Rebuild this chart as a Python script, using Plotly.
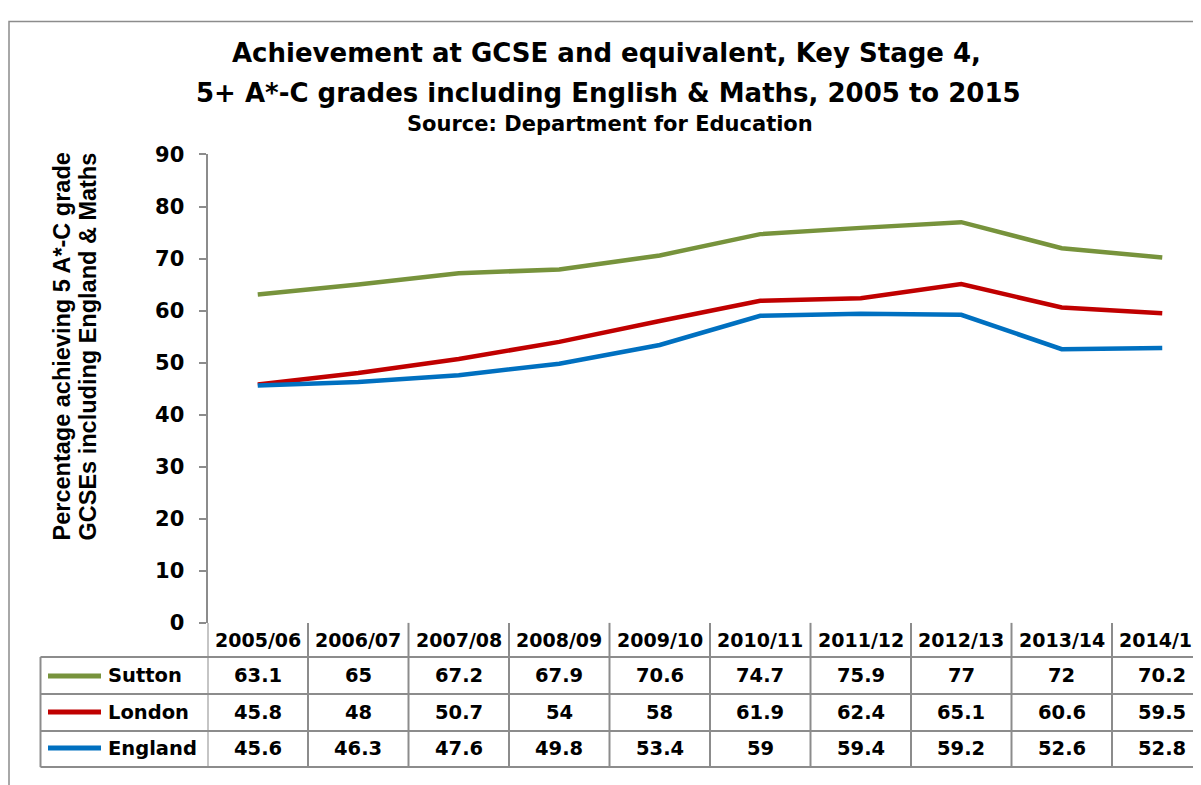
import plotly.graph_objects as go

# figure size; in the captured window the figure starts at (8, 20) and is
# drawn at ~0.968 vertical scale, so window pixels are mapped through that
FW, FH = 1201, 785
OX, OY, SY = 8, 20, 0.968

YEARS = ["2005/06", "2006/07", "2007/08", "2008/09", "2009/10",
         "2010/11", "2011/12", "2012/13", "2013/14", "2014/15"]
SUTTON = [63.1, 65, 67.2, 67.9, 70.6, 74.7, 75.9, 77, 72, 70.2]
LONDON = [45.8, 48, 50.7, 54, 58, 61.9, 62.4, 65.1, 60.6, 59.5]
ENGLAND = [45.6, 46.3, 47.6, 49.8, 53.4, 59, 59.4, 59.2, 52.6, 52.8]
Y_TICKS = [0, 10, 20, 30, 40, 50, 60, 70, 80, 90]

SERIES = [("Sutton", SUTTON, "#77933C"),
          ("London", LONDON, "#C00000"),
          ("England", ENGLAND, "#0070C0")]

WIDE = "DejaVu Sans, Verdana, sans-serif"
ARIAL = "Liberation Sans, Arial, sans-serif"
GRID = "#8C8C8C"


def px(x):
    # window pixel -> paper x
    return (x - OX) / FW


def py(y):
    # window pixel -> paper y
    return 1 - (y - OY) / SY / FH


def bold(size, family=WIDE):
    return dict(size=size, color="black", family=family, weight="bold")


# plot area in window pixels
LEFT, TOP, BOTTOM = 207.5, 154.3, 622
COL_W = 100.5
TABLE_BOTTOM = 766
n = len(YEARS)
x_hi = -0.5 + (OX + FW - LEFT) / COL_W

fig = go.Figure()
for name, vals, color in SERIES:
    fig.add_trace(go.Scatter(x=list(range(n)), y=vals, mode="lines", name=name,
                             line=dict(color=color, width=4.5), hoverinfo="x+y"))

shapes = []
annotations = []

# outer chart frame (right and bottom run off the picture)
shapes.append(dict(type="rect", xref="paper", yref="paper",
                   x0=px(9), x1=px(1260), y0=-0.2, y1=py(21.5),
                   line=dict(color=GRID, width=1.5)))

# data table grid
header_y, row_ys = 639, [675, 711, 747]
for yl in [656, 693, 730, TABLE_BOTTOM]:
    shapes.append(dict(type="line", xref="paper", yref="paper",
                       x0=px(40.5), x1=1.05, y0=py(yl), y1=py(yl),
                       line=dict(color=GRID, width=2)))
shapes.append(dict(type="line", xref="paper", yref="paper",
                   x0=px(40.5), x1=px(40.5), y0=py(656), y1=py(TABLE_BOTTOM),
                   line=dict(color=GRID, width=2)))
for i in range(n + 1):
    shapes.append(dict(type="line", xref="x", yref="paper",
                       x0=i - 0.5, x1=i - 0.5, y0=py(BOTTOM), y1=py(TABLE_BOTTOM),
                       line=dict(color=GRID, width=2)))

for i, yr in enumerate(YEARS):
    annotations.append(dict(x=i, y=py(header_y), xref="x", yref="paper", text=yr,
                            yanchor="middle", showarrow=False, font=bold(19)))

for (name, vals, color), ry in zip(SERIES, row_ys):
    shapes.append(dict(type="line", xref="paper", yref="paper",
                       x0=px(48), x1=px(101), y0=py(ry), y1=py(ry),
                       line=dict(color=color, width=5)))
    annotations.append(dict(x=px(106), y=py(ry), xref="paper", yref="paper",
                            text=name, xanchor="left", yanchor="middle",
                            showarrow=False, font=bold(19.5)))
    for i, v in enumerate(vals):
        annotations.append(dict(x=i, y=py(ry), xref="x", yref="paper",
                                text=f"{v:g}", yanchor="middle", showarrow=False,
                                font=bold(19.5)))

# titles
annotations += [
    dict(x=px(606), y=py(53), xref="paper", yref="paper", showarrow=False,
         xanchor="center", yanchor="middle",
         text="Achievement at GCSE and equivalent, Key Stage 4,", font=bold(26)),
    dict(x=px(608), y=py(93), xref="paper", yref="paper", showarrow=False,
         xanchor="center", yanchor="middle",
         text="5+ A*-C grades including English & Maths, 2005 to 2015", font=bold(26)),
    dict(x=px(610), y=py(124), xref="paper", yref="paper", showarrow=False,
         xanchor="center", yanchor="middle",
         text="Source: Department for Education", font=bold(21)),
    dict(x=px(62), y=py(346), xref="paper", yref="paper", showarrow=False,
         xanchor="center", yanchor="middle", textangle=-90,
         text="Percentage achieving 5 A*-C grade", font=bold(23.5, ARIAL)),
    dict(x=px(88), y=py(346), xref="paper", yref="paper", showarrow=False,
         xanchor="center", yanchor="middle", textangle=-90,
         text="GCSEs including England & Maths", font=bold(23.5, ARIAL)),
]

fig.update_layout(
    width=FW, height=FH,
    margin=dict(l=0, r=0, t=0, b=0),
    paper_bgcolor="white", plot_bgcolor="white",
    font=dict(family=WIDE, color="black"),
    showlegend=False,
    shapes=shapes,
    annotations=annotations,
    xaxis=dict(domain=[px(LEFT), 1], range=[-0.5, x_hi], showticklabels=False,
               showgrid=False, zeroline=False, showline=False, ticks="",
               fixedrange=True),
    yaxis=dict(domain=[py(BOTTOM), py(TOP)], range=[0, 90], tickvals=Y_TICKS,
               showgrid=False, zeroline=False, showline=True, linecolor=GRID,
               linewidth=2, ticks="outside", ticklen=7, tickcolor=GRID,
               tickwidth=1.5, ticklabelstandoff=10,
               tickfont=bold(21), fixedrange=True),
)

fig.write_html("out.html")
